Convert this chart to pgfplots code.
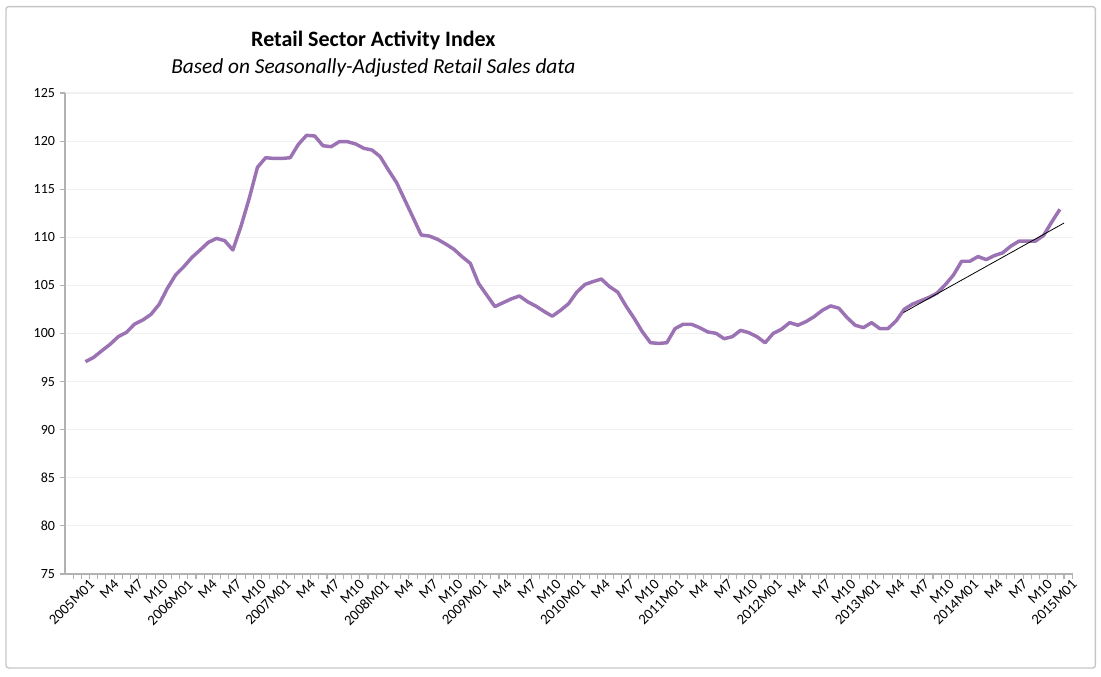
\documentclass[border=0pt]{standalone}
\usepackage{pgfplots}
\pgfplotsset{compat=1.18}
\usepackage{fontspec}
\setmainfont{Carlito}
\definecolor{lc}{HTML}{9B72B3}
\begin{document}
\begin{tikzpicture}
\path[use as bounding box] (0,0) rectangle (825.75pt,507pt);
\draw[gray!45, line width=1pt, rounded corners=2pt] (4.5pt,6pt) rectangle (821.5pt,502pt);
\node[font=\fontsize{16.5}{18}\selectfont\bfseries] at (280pt,477pt) {Retail Sector Activity Index};
\node[font=\fontsize{16}{18}\selectfont\itshape] at (280pt,456pt) {Based on Seasonally-Adjusted Retail Sales data};
\begin{axis}[at={(48.75pt,76.5pt)}, anchor=south west, scale only axis,
  width=756pt, height=360.75pt,
  xmin=-2.5, xmax=120.6, ymin=75, ymax=125,
  axis x line*=bottom, axis y line*=left,
  axis line style={gray!60, line width=1pt},
  ytick={75,80,...,125}, ymajorgrids, grid style={gray!12, line width=0.8pt},
  xtick={0,3,...,120},
  xticklabels={2005M01,M4,M7,M10,2006M01,M4,M7,M10,2007M01,M4,M7,M10,2008M01,M4,M7,M10,2009M01,M4,M7,M10,2010M01,M4,M7,M10,2011M01,M4,M7,M10,2012M01,M4,M7,M10,2013M01,M4,M7,M10,2014M01,M4,M7,M10,2015M01},
  minor xtick={-1.5,-0.5,...,120.5},
  x tick label style={rotate=45, anchor=north east, font=\fontsize{11}{12}\selectfont, xshift=3pt, inner sep=1pt},
  y tick label style={font=\fontsize{10.5}{12}\selectfont},
  /pgf/number format/assume math mode=true,
  major x tick style={draw=none}, minor x tick style={gray!60, line width=0.8pt},
  major tick length=4pt, minor tick length=4pt,
  tick align=outside, y tick style={gray!60, line width=0.8pt},
  clip=false]
\addplot[lc, line width=2.6pt, line join=round] coordinates {
(0,97.07)(1,97.52)(2,98.21)(3,98.87)(4,99.67)(5,100.12)(6,100.98)(7,101.40)(8,101.99)(9,103.03)
(10,104.69)(11,106.08)(12,106.94)(13,107.91)(14,108.68)(15,109.47)(16,109.89)(17,109.65)(18,108.68)(19,111.17)
(20,114.05)(21,117.27)(22,118.27)(23,118.20)(24,118.20)(25,118.27)(26,119.66)(27,120.60)(28,120.53)(29,119.52)
(30,119.42)(31,119.94)(32,119.94)(33,119.70)(34,119.25)(35,119.07)(36,118.38)(37,116.99)(38,115.68)(39,113.87)
(40,112.07)(41,110.24)(42,110.13)(43,109.79)(44,109.30)(45,108.75)(46,107.98)(47,107.29)(48,105.21)(49,104.0)
(50,102.8)(51,103.2)(52,103.6)(53,103.9)(54,103.3)(55,102.85)(56,102.3)(57,101.8)(58,102.4)(59,103.1)
(60,104.3)(61,105.1)(62,105.4)(63,105.66)(64,104.87)(65,104.3)(66,102.87)(67,101.59)(68,100.19)(69,99.04)
(70,98.97)(71,99.04)(72,100.51)(73,100.96)(74,100.96)(75,100.61)(76,100.16)(77,100.02)(78,99.46)(79,99.67)
(80,100.33)(81,100.09)(82,99.67)(83,99.04)(84,100.02)(85,100.44)(86,101.13)(87,100.86)(88,101.24)(89,101.76)
(90,102.42)(91,102.87)(92,102.63)(93,101.66)(94,100.86)(95,100.61)(96,101.13)(97,100.51)(98,100.51)(99,101.31)
(100,102.53)(101,103.05)(102,103.40)(103,103.75)(104,104.20)(105,105.07)(106,106.08)(107,107.51)(108,107.51)(109,108.00)
(110,107.68)(111,108.10)(112,108.38)(113,109.08)(114,109.60)(115,109.60)(116,109.60)(117,110.19)(118,111.59)(119,112.91)
};
\addplot[black, line width=0.6pt] coordinates {(99.9,102.18)(119.5,111.48)};
\end{axis}
\end{tikzpicture}
\end{document}
